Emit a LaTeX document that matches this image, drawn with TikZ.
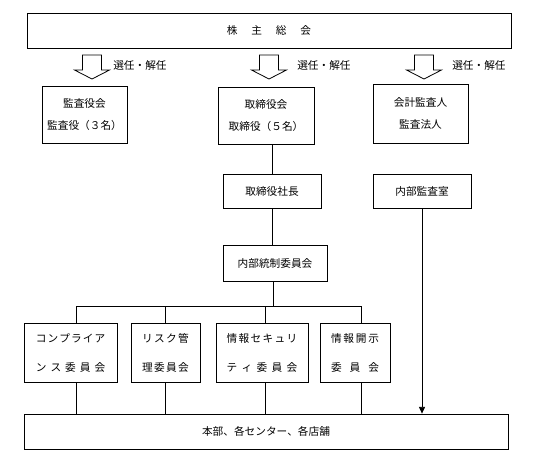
\documentclass[tikz,border=0pt]{standalone}
\usepackage{fontspec}
\setmainfont{Noto Sans CJK JP}
\usetikzlibrary{arrows.meta}

\tikzstyle{unit}=[draw,line width=0.6pt,inner sep=0pt,align=center,font=\fontsize{8pt}{16.5pt}\selectfont]
\tikzstyle{cmte}=[unit,font=\fontsize{8pt}{21.75pt}\selectfont]
\tikzstyle{choice}=[anchor=west,inner sep=0pt,font=\fontsize{8pt}{10pt}\selectfont]
\tikzstyle{link}=[line width=0.6pt]

\newcommand{\spreadrow}[2]{\makebox[#1][s]{#2}}

\begin{document}
\begin{tikzpicture}[x=0.75pt,y=-0.75pt]
\useasboundingbox (0,0) rectangle (546,462);
%\draw[help lines,step=10] (0,0) grid (546,462);
\node[unit,minimum width=363pt,minimum height=26.25pt] (gm) at (269,30.5) {株\hspace{1.3em}主\hspace{1.3em}総\hspace{1.3em}会};

% hollow arrows from the meeting
\foreach \cx/\lx/\i in {92/113/1,269/297/2,424/452/3}{
  \draw[link] (\cx-9.5,55) -- (\cx+9.5,55) -- (\cx+9.5,70) -- (\cx+17.5,70)
    -- (\cx,79) -- (\cx-17.5,70) -- (\cx-9.5,70) -- cycle;
  \node[choice] (sel\i) at (\lx,65) {選任・解任};
}

\node[unit,minimum width=63.75pt,minimum height=42.75pt] (kansa)   at (84.5,114.5) {監査役会\\監査役（３名）};
\node[unit,minimum width=72pt,minimum height=42.75pt]    (board)   at (266,115.5)  {取締役会\\取締役（５名）};
\node[unit,minimum width=71.25pt,minimum height=44.25pt] (auditor) at (420.5,113.5) {会計監査人\\監査法人};
\node[unit,minimum width=73.5pt,minimum height=25.5pt]   (ceo)      at (272,191)   {取締役社長};
\node[unit,minimum width=73.5pt,minimum height=25.5pt]   (internal) at (422,191)   {内部監査室};
\node[unit,minimum width=78pt,minimum height=27pt]       (icc)      at (275,263)   {内部統制委員会};

\node[cmte,minimum width=69.75pt,minimum height=44.25pt] (comp) at (70.5,352.5)
  {\spreadrow{52pt}{コ\hfil ン\hfil プ\hfil ラ\hfil イ\hfil ア}\\\spreadrow{52pt}{ン\hfil ス\hfil 委\hfil 員\hfil 会}};
\node[cmte,minimum width=51.75pt,minimum height=44.25pt] (risk) at (165.5,352.5)
  {\spreadrow{35pt}{リ\hfil ス\hfil ク\hfil 管}\\\spreadrow{35pt}{理\hfil 委\hfil 員\hfil 会}};
\node[cmte,minimum width=69pt,minimum height=44.25pt]    (sec)  at (262,352.5)
  {\spreadrow{53pt}{情\hfil 報\hfil セ\hfil キ\hfil ュ\hfil リ}\\\spreadrow{53pt}{テ\hfil ィ\hfil 委\hfil 員\hfil 会}};
\node[cmte,minimum width=52.5pt,minimum height=44.25pt]  (disc) at (355,352.5)
  {\spreadrow{36pt}{情\hfil 報\hfil 開\hfil 示}\\\spreadrow{36pt}{委\hfil 員\hfil 会}};

\node[unit,minimum width=363pt,minimum height=26.25pt] (base) at (266,431.5) {本部、各センター、各店舗};

\coordinate (bus) at (273,306);
\coordinate (d1) at (76,306);
\coordinate (d2) at (165,306);
\coordinate (d3) at (265,306);
\coordinate (d4) at (361,306);

\draw[link] (board.south -| ceo) -- (ceo);
\draw[link] (ceo.south) -- (ceo.south |- icc.north);
\draw[link] (icc.south -| bus) -- (bus);
\draw[link] (d1) -- (d4);
\foreach \d/\c in {d1/comp,d2/risk,d3/sec,d4/disc}
  \draw[link] (\d) -- (\d |- \c.north) (\d |- \c.south) -- (\d |- base.north);
\draw[link,-{Triangle[length=5pt,width=4.5pt]}] (internal) -- (internal |- base.north);
\end{tikzpicture}
\end{document}
